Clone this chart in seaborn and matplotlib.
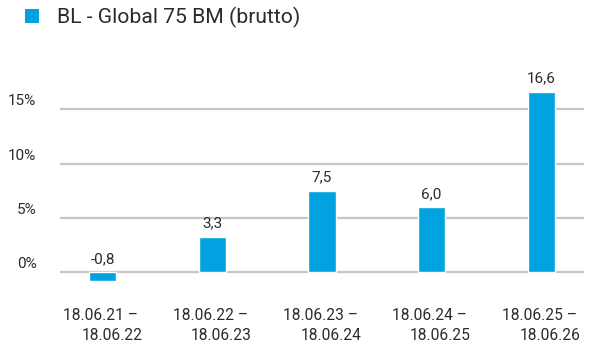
import matplotlib
matplotlib.use("Agg")
import matplotlib.pyplot as plt
import matplotlib.transforms as mtransforms
from matplotlib.patches import Patch
import seaborn as sns
import pandas as pd

# Annual performance periods and gross returns (%)
periods = [
    "18.06.21 –\u00a0\n18.06.22",
    "18.06.22 –\u00a0\n18.06.23",
    "18.06.23 –\u00a0\n18.06.24",
    "18.06.24 –\u00a0\n18.06.25",
    "18.06.25 –\u00a0\n18.06.26",
]
returns = [-0.8, 3.3, 7.5, 6.0, 16.6]
y_ticks = [0, 5, 10, 15]
series_name = "BL - Global 75 BM (brutto)"

BAR_COLOR = "#00A3DF"
TEXT_COLOR = "#2B2B2B"
GRID_COLOR = "#C6C6C6"

sns.set_theme(style="white")
plt.rcParams["font.family"] = ["Roboto", "DejaVu Sans"]

df = pd.DataFrame({"period": periods, "value": returns})

fig = plt.figure(figsize=(6.0, 3.47), dpi=100)
ax = fig.add_axes([0.1, 0.1833, 0.8733, 0.5968])

sns.barplot(data=df, x="period", y="value", color=BAR_COLOR, saturation=1,
            width=0.247, ax=ax, zorder=3)

ax.set_xlim(-0.39, 4.39)
ax.set_ylim(-1.0, 18.0)

# horizontal reference lines
for t in y_ticks:
    ax.axhline(t, color=GRID_COLOR, lw=1.6, zorder=1)

for s in ax.spines.values():
    s.set_visible(False)

ax.set_xlabel("")
ax.set_ylabel("")

# y tick labels sit just above their lines
ax.set_yticks(y_ticks)
ax.set_yticklabels([f"{t}%" for t in y_ticks])
ax.tick_params(axis="y", length=0, pad=17, labelsize=11, labelcolor=TEXT_COLOR)
up = mtransforms.ScaledTranslation(0, 4 / 100, fig.dpi_scale_trans)
for lbl in ax.get_yticklabels():
    lbl.set_verticalalignment("baseline")
    lbl.set_transform(lbl.get_transform() + up)

ax.tick_params(axis="x", length=0, pad=18, labelsize=11.2, labelcolor=TEXT_COLOR)
for lbl in ax.get_xticklabels():
    lbl.set_multialignment("right")
    lbl.set_linespacing(1.42)

# value labels above each bar (or above zero for negatives)
lift = mtransforms.offset_copy(ax.transData, fig=fig, x=0, y=9, units="dots")
for i, v in enumerate(returns):
    ax.text(i, max(v, 0), f"{v:.1f}".replace(".", ","), transform=lift,
            ha="center", va="baseline", fontsize=11, color=TEXT_COLOR)

# series key at the top left
handle = Patch(facecolor=BAR_COLOR, edgecolor="none")
fig.legend([handle], [series_name], loc="upper left",
           bbox_to_anchor=(0.02, 1.016), frameon=False, fontsize=15.2,
           handlelength=0.68, handleheight=0.68, handletextpad=0.85,
           borderaxespad=0.2, labelcolor=TEXT_COLOR)

fig.savefig("out.png", dpi=100)
